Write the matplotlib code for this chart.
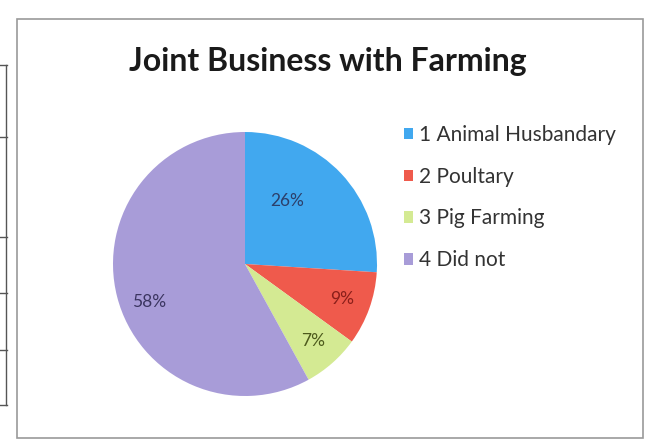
import matplotlib.pyplot as plt
from matplotlib.patches import Rectangle
from matplotlib.lines import Line2D

# Data
labels = ['1 Animal Husbandary', '2 Poultary', '3 Pig Farming', '4 Did not']
values = [26, 9, 7, 58]
colors = ['#41a8ef', '#ef5a4c', '#d4ea93', '#a89cd8']
pct_colors = ['#2c3f6a', '#8a1f1a', '#4d5a1c', '#3b3560']
title = 'Joint Business with Farming'

W, H = 647, 441
fig = plt.figure(figsize=(W / 100, H / 100), dpi=100)
fig.patch.set_facecolor('white')

# chart frame
fig.patches.append(Rectangle((17 / W, 3 / H), 626 / W, 419 / H, transform=fig.transFigure,
                             fill=False, edgecolor='#9a9a9a', linewidth=1.2))
# edge of the table that sits left of the chart in the scan
fig.lines.append(Line2D([6 / W, 6 / W], [(H - 405) / H, (H - 65) / H], transform=fig.transFigure,
                        color='#555555', linewidth=1))
for yy in [65, 137, 237, 293, 350, 405]:
    fig.lines.append(Line2D([0, 7 / W], [(H - yy) / H, (H - yy) / H], transform=fig.transFigure,
                            color='#555555', linewidth=1))

# pie axes
cx, cy, r = 245, 264, 132
ax = fig.add_axes([(cx - r) / W, (H - cy - r) / H, 2 * r / W, 2 * r / H])
wedges, texts, autotexts = ax.pie(values, colors=colors, startangle=90, counterclock=False,
                                  autopct='%1.0f%%', pctdistance=0.78,
                                  wedgeprops={'linewidth': 0},
                                  textprops={'fontsize': 12.5, 'family': 'Lato'})
for t, c in zip(autotexts, pct_colors):
    t.set_color(c)
autotexts[0].set_position((0.32, 0.48))
autotexts[3].set_position((-0.73, -0.29))
ax.set_aspect('auto')
ax.set_xlim(-1, 1)
ax.set_ylim(-1, 1)

fig.text(328 / W, (H - 62) / H, title, ha='center', va='center', fontsize=23,
         fontweight='bold', family='Lato', color='#1a1a1a')

fig.legend(wedges, labels, loc='upper left', bbox_to_anchor=(385 / W, (H - 106) / H),
           frameon=False, handlelength=0.45, handleheight=0.45,
           handletextpad=0.3, labelspacing=1.05, labelcolor='#333333',
           prop={'family': 'Lato', 'size': 15})

fig.savefig('out.png', dpi=100, facecolor='white')
